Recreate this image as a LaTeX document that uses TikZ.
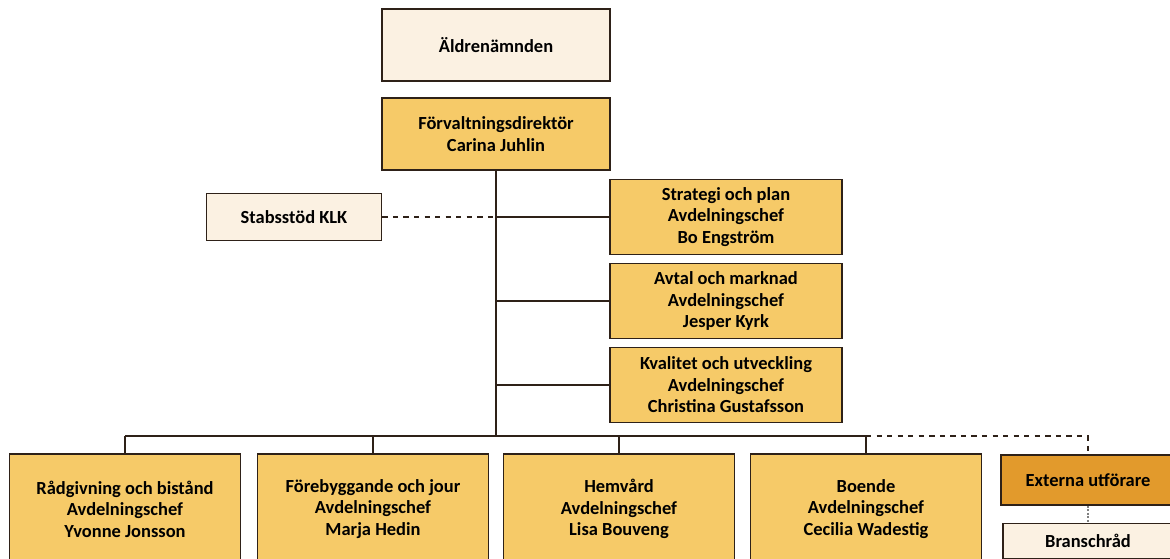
\documentclass[tikz,border=0pt]{standalone}
\usepackage{fontspec}
\setmainfont{Carlito}
\usepackage{tikz}
\usetikzlibrary{positioning}
\definecolor{cream}{HTML}{FBF1E2}
\definecolor{gold}{HTML}{F6CA68}
\definecolor{darkgold}{HTML}{E29A2C}
\definecolor{edge}{HTML}{2E2118}

\begin{document}
\begin{tikzpicture}[orgbox/.style={draw=edge, line width=1pt, align=center, inner sep=0pt,
                          font=\fontsize{10.5}{12.2}\selectfont\bfseries},
                        wide/.style={orgbox, minimum width=4.56cm, minimum height=1.45cm},
                        side/.style={orgbox, fill=gold, minimum width=4.64cm, minimum height=1.5cm},
                        unit/.style={orgbox, fill=gold, minimum width=4.62cm, minimum height=2.2cm},
                        link/.style={edge, line width=1pt}]
        \clip (0,0) rectangle (23.4,-11.16);
        \draw (9.92,-0.9) node[wide,fill=cream] (nmd) {Äldrenämnden}
              (9.92,-2.68) node[wide,fill=gold] (dir) {Förvaltningsdirektör\\Carina Juhlin}
              (5.88,-4.34) node[orgbox,fill=cream,minimum width=3.5cm,minimum height=0.94cm] (stab) {Stabsstöd KLK}
              (14.52,-4.34) node[side] (strat) {Strategi och plan\\Avdelningschef\\Bo Engström}
              (14.52,-6.02) node[side] (avtal) {Avtal och marknad\\Avdelningschef\\Jesper Kyrk}
              (14.52,-7.70) node[side] (kval) {Kvalitet och utveckling\\Avdelningschef\\Christina Gustafsson};
        \draw (2.5,-10.18) node[unit] (radg) {Rådgivning och bistånd\\Avdelningschef\\Yvonne Jonsson}
              (7.46,-10.18) node[unit] (foreb) {Förebyggande och jour\\Avdelningschef\\Marja Hedin}
              (12.38,-10.18) node[unit] (hem) {Hemvård\\Avdelningschef\\Lisa Bouveng}
              (17.32,-10.18) node[unit] (boende) {Boende\\Avdelningschef\\Cecilia Wadestig}
              (21.76,-9.6) node[orgbox,fill=darkgold,minimum width=3.48cm,minimum height=1cm] (ext) {Externa utförare}
              (21.76,-10.82) node[orgbox,fill=cream,minimum width=3.4cm,minimum height=0.7cm] (bransch) {Branschråd};
        \coordinate (bus) at (9.92,-8.72);
        \draw[link] (dir.south)--(bus);
        \draw[link] (dir.south |- strat.west)--(strat.west);
        \draw[link] (dir.south |- avtal.west)--(avtal.west);
        \draw[link] (dir.south |- kval.west)--(kval.west);
        \draw[link, dashed] (stab.east)--(dir.south |- stab.east);
        \draw[link] (radg.north |- bus)--(boende.north |- bus);
        \draw[link] (radg.north |- bus)--(radg.north);
        \draw[link] (foreb.north |- bus)--(foreb.north);
        \draw[link] (hem.north |- bus)--(hem.north);
        \draw[link] (boende.north |- bus)--(boende.north);
        \draw[link, dashed] (boende.north |- bus)--(ext.north |- bus)--(ext.north);
        \draw[gray, line width=1pt, densely dotted] (ext.south)--(bransch.north);
    \end{tikzpicture}
\end{document}
